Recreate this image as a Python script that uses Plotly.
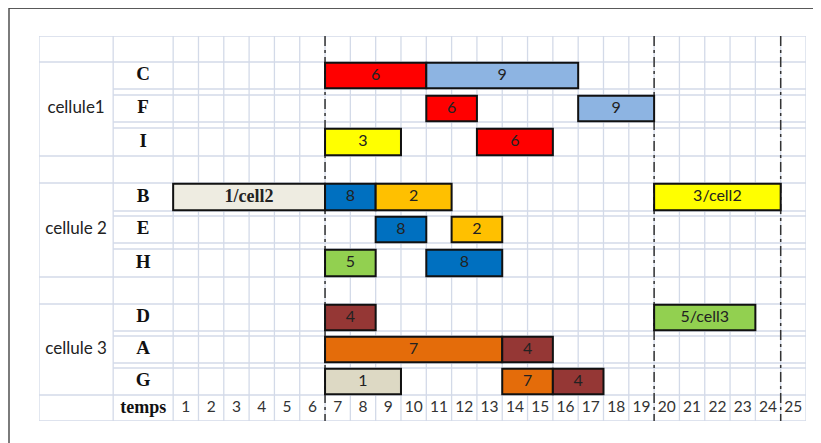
import plotly.graph_objects as go

# ---------------- data ----------------
cells = ["cellule1", "cellule 2", "cellule 3"]
cell_machines = [["C", "F", "I"], ["B", "E", "H"], ["D", "A", "G"]]
time_ticks = [str(i) for i in range(1, 26)]
milestones = [6, 19, 24]

task_machine = ["C", "C", "F", "F", "I", "I", "B", "B", "B", "B", "E", "E",
                "H", "H", "D", "D", "A", "A", "G", "G", "G"]
task_start = [6, 10, 10, 16, 6, 12, 0, 6, 8, 19, 8, 11, 6, 10, 6, 19, 6, 13, 6, 13, 15]
task_end = [10, 16, 12, 19, 9, 15, 6, 8, 11, 24, 10, 13, 8, 13, 8, 23, 13, 15, 9, 15, 17]
task_label = ["6", "9", "6", "9", "3", "6", "1/cell2", "8", "2", "3/cell2", "8", "2",
              "5", "8", "4", "5/cell3", "7", "4", "1", "7", "4"]
task_color = ["#FF0000", "#8DB4E2", "#FF0000", "#8DB4E2", "#FFFF00", "#FF0000",
              "#EEECE1", "#0070C0", "#FFC000", "#FFFF00", "#0070C0", "#FFC000",
              "#92D050", "#0070C0", "#953735", "#92D050", "#E46C0A", "#953735",
              "#DDD9C4", "#E46C0A", "#953735"]

# ---------------- layout structure (sheet rows) ----------------
row_spec = [("hdr", 26), ("C", 27), ("gap", 6), ("F", 27), ("gap", 6), ("I", 28),
            ("blank", 27), ("B", 28), ("gap", 5), ("E", 27), ("gap", 6), ("H", 28),
            ("blank", 27), ("D", 27), ("gap", 5), ("A", 27), ("gap", 5), ("G", 27),
            ("temps", 26)]
bounds = [0]
for _, h in row_spec:
    bounds.append(bounds[-1] + h)
total_h = bounds[-1]
row_top, row_bot, row_c, row_h = {}, {}, {}, {}
for i, (name, h) in enumerate(row_spec):
    row_top[name] = bounds[i]
    row_bot[name] = bounds[i + 1]
    row_c[name] = (bounds[i] + bounds[i + 1]) / 2
    row_h[name] = h

# page body has an 8px margin -> figure origin sits at (8, 8)
OFF = 8
W, H = 821 - OFF, 443 - OFF
ml, mr, mt, mb = 39 - OFF, 15, 36 - OFF, 22
x_left, x_right = -5.3, 25
x_split = -2.37

grid_col = "#D3DAE8"
shapes = []
# vertical grid lines
for xv in [x_left, x_split] + list(range(0, 26)):
    shapes.append(dict(type="line", xref="x", yref="y", x0=xv, x1=xv, y0=0, y1=total_h,
                       line=dict(color=grid_col, width=1.3), layer="below"))
# horizontal grid lines
full_names = {"hdr", "blank", "temps"}
for i, b in enumerate(bounds):
    above = row_spec[i - 1][0] if i > 0 else "hdr"
    below = row_spec[i][0] if i < len(row_spec) else "temps"
    full = (above in full_names) or (below in full_names)
    shapes.append(dict(type="line", xref="x", yref="y", x0=x_left if full else x_split,
                       x1=x_right, y0=b, y1=b,
                       line=dict(color=grid_col, width=1.3), layer="below"))
# phase (dash-dot) lines
for m in milestones:
    shapes.append(dict(type="line", xref="x", yref="y", x0=m, x1=m, y0=0, y1=total_h,
                       line=dict(color="#333333", width=1.5, dash="10px,4px,3px,4px"),
                       layer="below"))
# outer frame (top + left)
pw, ph = W - ml - mr, H - mt - mb
fx = (9 - 39) / pw
fy = 1 + (36 - 8) / ph
shapes.append(dict(type="line", xref="paper", yref="paper", x0=fx, x1=1 + (mr + 5) / pw,
                   y0=fy, y1=fy, line=dict(color="#222222", width=1.6)))
shapes.append(dict(type="line", xref="paper", yref="paper", x0=fx, x1=fx,
                   y0=-(mb + 5) / ph, y1=fy, line=dict(color="#444444", width=1.4)))

fig = go.Figure()

# task bars
fig.add_trace(go.Bar(
    orientation="h",
    y=[row_c[m] for m in task_machine],
    x=[e - s for s, e in zip(task_start, task_end)],
    base=task_start,
    width=[row_h[m] - 1.5 for m in task_machine],
    marker=dict(color=task_color, line=dict(color="#111111", width=2)),
    hoverinfo="skip",
))

# task labels
serif_labels = {"1/cell2"}
sx, sy, st, nx, ny, nt = [], [], [], [], [], []
for m, s, e, lab in zip(task_machine, task_start, task_end, task_label):
    if lab in serif_labels:
        sx.append((s + e) / 2); sy.append(row_c[m]); st.append("<b>" + lab + "</b>")
    else:
        nx.append((s + e) / 2); ny.append(row_c[m]); nt.append(lab)
fig.add_trace(go.Scatter(x=nx, y=ny, text=nt, mode="text", cliponaxis=False,
                         textfont=dict(family="Lato", size=16, color="#222222"),
                         hoverinfo="skip"))
fig.add_trace(go.Scatter(x=sx, y=sy, text=st, mode="text", cliponaxis=False,
                         textfont=dict(family="Liberation Serif", size=18, color="#222222"),
                         hoverinfo="skip"))

# machine labels + temps
lab_x = (x_split + 0) / 2
mach = [m for grp in cell_machines for m in grp]
fig.add_trace(go.Scatter(
    x=[lab_x] * (len(mach) + 1), y=[row_c[m] for m in mach] + [row_c["temps"]],
    text=["<b>" + m + "</b>" for m in mach] + ["<b>temps</b>"], mode="text",
    cliponaxis=False,
    textfont=dict(family="Liberation Serif", size=[19] * len(mach) + [18], color="#111111"),
    hoverinfo="skip"))

# cell labels
cell_x = (x_left + x_split) / 2
fig.add_trace(go.Scatter(
    x=[cell_x] * len(cells),
    y=[(row_top[g[0]] + row_bot[g[-1]]) / 2 for g in cell_machines],
    text=cells, mode="text", cliponaxis=False,
    textfont=dict(family="Lato", size=17, color="#222222"), hoverinfo="skip"))

# time labels
fig.add_trace(go.Scatter(
    x=[i + 0.5 for i in range(len(time_ticks))], y=[row_c["temps"]] * len(time_ticks),
    text=time_ticks, mode="text", cliponaxis=False,
    textfont=dict(family="Lato", size=15.5, color="#333333"), hoverinfo="skip"))

fig.update_layout(
    width=W, height=H, margin=dict(l=ml, r=mr, t=mt, b=mb),
    paper_bgcolor="white", plot_bgcolor="white", showlegend=False,
    barmode="overlay", shapes=shapes,
    xaxis=dict(range=[x_left, x_right], visible=False, fixedrange=True),
    yaxis=dict(range=[total_h, 0], visible=False, fixedrange=True),
)
fig.write_html("out.html")
